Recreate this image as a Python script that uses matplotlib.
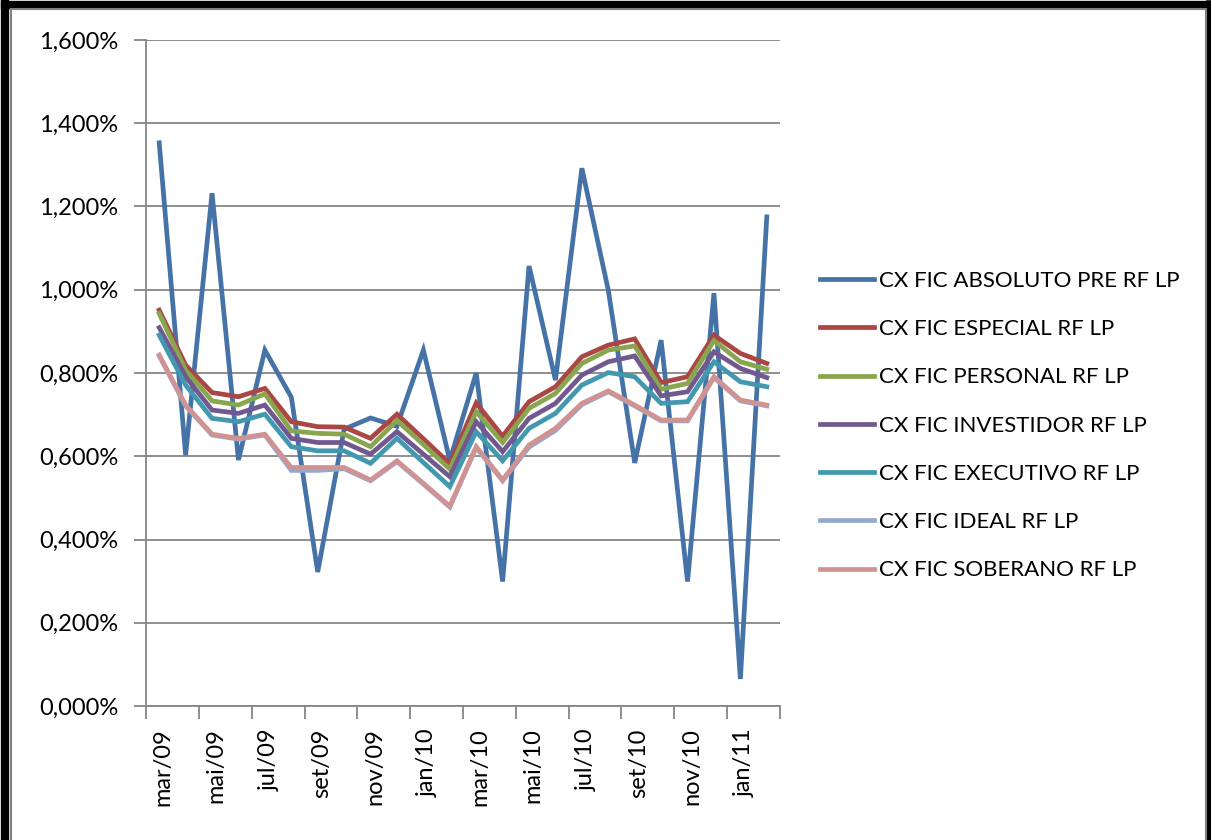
import numpy as np
import matplotlib
matplotlib.use('Agg')
import matplotlib.pyplot as plt
from matplotlib.lines import Line2D
from matplotlib.ticker import FuncFormatter, FixedLocator

plt.rcParams['font.family'] = ['Lato', 'DejaVu Sans']

months = ['mar/09', 'abr/09', 'mai/09', 'jun/09', 'jul/09', 'ago/09', 'set/09', 'out/09',
          'nov/09', 'dez/09', 'jan/10', 'fev/10', 'mar/10', 'abr/10', 'mai/10', 'jun/10',
          'jul/10', 'ago/10', 'set/10', 'out/10', 'nov/10', 'dez/10', 'jan/11', 'fev/11']

absoluto = [1.353, 0.603, 1.232, 0.591, 0.855, 0.742, 0.322, 0.665, 0.692, 0.672, 0.855, 0.590,
            0.800, 0.299, 1.057, 0.783, 1.292, 0.999, 0.584, 0.879, 0.299, 0.992, 0.065, 1.175]
especial = [0.951, 0.819, 0.753, 0.743, 0.763, 0.683, 0.671, 0.670, 0.643, 0.701, 0.642, 0.582,
            0.728, 0.648, 0.731, 0.767, 0.839, 0.867, 0.882, 0.777, 0.791, 0.891, 0.847, 0.823]
personal = [0.943, 0.807, 0.733, 0.723, 0.750, 0.661, 0.655, 0.653, 0.623, 0.686, 0.628, 0.569,
            0.707, 0.633, 0.715, 0.751, 0.823, 0.855, 0.865, 0.761, 0.775, 0.878, 0.827, 0.809]
investidor = [0.909, 0.791, 0.711, 0.703, 0.723, 0.643, 0.633, 0.633, 0.605, 0.659, 0.605, 0.551,
              0.683, 0.611, 0.691, 0.727, 0.795, 0.827, 0.841, 0.745, 0.755, 0.851, 0.811, 0.789]
executivo = [0.891, 0.771, 0.691, 0.683, 0.701, 0.623, 0.613, 0.613, 0.583, 0.643, 0.585, 0.527,
             0.659, 0.589, 0.667, 0.703, 0.771, 0.801, 0.791, 0.727, 0.731, 0.827, 0.779, 0.767]
ideal = [0.841, 0.721, 0.651, 0.641, 0.651, 0.566, 0.566, 0.570, 0.541, 0.587, 0.533, 0.478,
         0.621, 0.541, 0.622, 0.662, 0.724, 0.755, 0.721, 0.685, 0.685, 0.789, 0.733, 0.721]
soberano = [0.843, 0.723, 0.653, 0.643, 0.653, 0.573, 0.573, 0.573, 0.543, 0.589, 0.535, 0.480,
            0.623, 0.543, 0.627, 0.667, 0.727, 0.757, 0.723, 0.687, 0.687, 0.791, 0.735, 0.723]

series = [
    ('CX FIC ABSOLUTO PRE RF LP', absoluto, '#4572A7'),
    ('CX FIC ESPECIAL RF LP', especial, '#AA4643'),
    ('CX FIC PERSONAL RF LP', personal, '#89A54E'),
    ('CX FIC INVESTIDOR RF LP', investidor, '#71588F'),
    ('CX FIC EXECUTIVO RF LP', executivo, '#4198AF'),
    ('CX FIC IDEAL RF LP', ideal, '#93A9CF'),
    ('CX FIC SOBERANO RF LP', soberano, '#D19392'),
]

fig = plt.figure(figsize=(12.11, 8.4), dpi=100)
ax = fig.add_axes([146 / 1211, 1 - 706 / 840, 634 / 1211, 666 / 840])

x = np.arange(len(months))
for name, vals, color in series:
    ax.plot(x, vals, color=color, lw=3.4, label=name, solid_joinstyle='miter')

ax.set_xlim(-0.5, len(months) - 0.5)
ax.set_ylim(0, 1.6)
ax.set_yticks(np.arange(0, 1.61, 0.2))
ax.yaxis.set_major_formatter(FuncFormatter(lambda v, p: f'{v:.3f}'.replace('.', ',') + '%'))
ax.grid(axis='y', color='#868686', lw=1.3)
ax.set_axisbelow(True)

ax.xaxis.set_major_locator(FixedLocator(np.arange(-0.5, len(months), 2)))
ax.xaxis.set_minor_locator(FixedLocator(x[::2] + 0.15))
ax.set_xticklabels([])
ax.set_xticklabels(months[::2], minor=True, rotation=90)
ax.tick_params(axis='x', which='major', length=9, width=1.3, color='#868686')
ax.tick_params(axis='x', which='minor', length=0, pad=16, labelsize=17)
ax.tick_params(axis='y', length=9, width=1.3, color='#868686', pad=11, labelsize=17)

for s in ['top', 'right']:
    ax.spines[s].set_visible(False)
for s in ['left', 'bottom']:
    ax.spines[s].set_color('#868686')
    ax.spines[s].set_linewidth(1.3)

handles, labels = ax.get_legend_handles_labels()
fig.legend(handles, labels, loc='upper left', bbox_to_anchor=(820 / 1211, 1 - 271 / 840),
           frameon=False, fontsize=16, handlelength=2.45, handletextpad=0.22,
           labelspacing=1.27, borderpad=0, borderaxespad=0)

# outer frame (left, top, right)
for coords, lw, col in [
    (([0.004, 0.004], [0, 0.996]), 6, 'black'),
    (([0.004, 0.996], [0.994, 0.994]), 6, 'black'),
    (([0.998, 0.998], [0, 0.996]), 4, 'black'),
    (([0.009, 0.009], [0, 0.989]), 1.5, '#808080'),
    (([0.009, 0.995], [0.989, 0.989]), 1.5, '#808080'),
    (([0.996, 0.996], [0, 0.989]), 1.5, '#808080'),
]:
    fig.add_artist(Line2D(coords[0], coords[1], lw=lw, color=col, transform=fig.transFigure))

fig.savefig('out.png', dpi=100)
